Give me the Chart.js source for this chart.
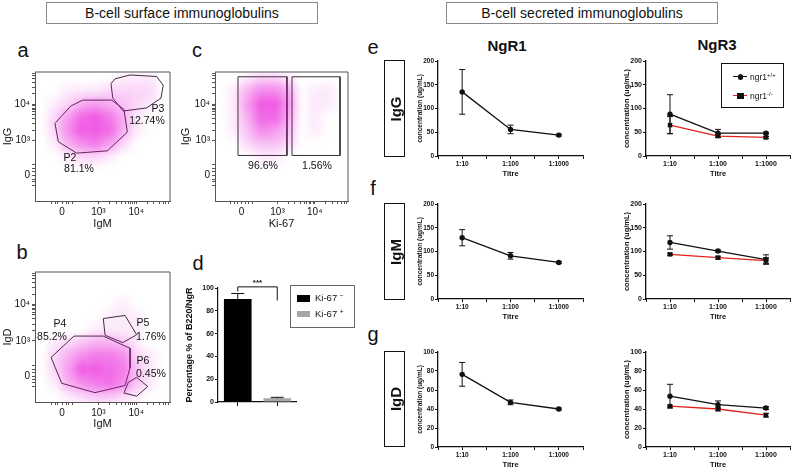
<!DOCTYPE html>
<html lang="en">
<head>
<meta charset="UTF-8">
<title>B-cell immunoglobulins</title>
<script src="https://cdn.jsdelivr.net/npm/chart.js@4.4.1/dist/chart.umd.min.js"></script>
<style>
  body { margin: 0; background: #fff; }
  #page { position: relative; width: 792px; height: 470px; overflow: hidden;
          font-family: "Liberation Sans", Arial, sans-serif; color: #111; }
  #page canvas { position: absolute; }
  .t { position: absolute; white-space: nowrap; transform: translate(-50%, -50%); line-height: 1; }
  .hdr { position: absolute; box-sizing: border-box; border: 1px solid #8a8a8a; font-size: 14px;
         text-align: center; line-height: 20px; height: 22px; width: 272px; top: 2px; }
  .letter { font-size: 20px; }
  .gate { font-size: 10.5px; }
  .side { position: absolute; box-sizing: border-box; border: 1.6px solid #111; width: 21px; left: 384px; }
  .side span { position: absolute; left: 50%; top: 50%; transform: translate(-50%, -50%) rotate(-90deg);
               font-weight: bold; font-size: 15px; }
  .ng { font-weight: bold; font-size: 15px; }
  .lg { position: absolute; box-sizing: border-box; }
  sup { font-size: 70%; line-height: 0; vertical-align: 0.5em; }
</style>
</head>
<body>
<div id="page">
  <div class="hdr" style="left:46px">B-cell surface immunoglobulins</div>
  <div class="hdr" style="left:446px">B-cell secreted immunoglobulins</div>

  <div class="t letter" style="left:23px;top:50px">a</div>
  <div class="t letter" style="left:22px;top:252px">b</div>
  <div class="t letter" style="left:197px;top:50px">c</div>
  <div class="t letter" style="left:198px;top:263px">d</div>
  <div class="t letter" style="left:373px;top:47px">e</div>
  <div class="t letter" style="left:373px;top:188px">f</div>
  <div class="t letter" style="left:373px;top:334px">g</div>

  <canvas id="flowA" width="172" height="168" style="left:0;top:64px"></canvas>
  <canvas id="flowC" width="172" height="168" style="left:178px;top:64px"></canvas>
  <canvas id="flowB" width="172" height="168" style="left:0;top:264px"></canvas>
  <canvas id="barD" width="113" height="135" style="left:184px;top:280px"></canvas>

  <div class="t gate" style="left:158px;top:108px">P3</div>
  <div class="t gate" style="left:147px;top:120px">12.74%</div>
  <div class="t gate" style="left:70px;top:157px">P2</div>
  <div class="t gate" style="left:79px;top:168px">81.1%</div>
  <div class="t gate" style="left:60px;top:323px">P4</div>
  <div class="t gate" style="left:52px;top:336px">85.2%</div>
  <div class="t gate" style="left:143px;top:322px">P5</div>
  <div class="t gate" style="left:151px;top:336px">1.76%</div>
  <div class="t gate" style="left:143px;top:360px">P6</div>
  <div class="t gate" style="left:151px;top:373px">0.45%</div>
  <div class="t gate" style="left:263px;top:165px">96.6%</div>
  <div class="t gate" style="left:317px;top:165px">1.56%</div>

  <!-- legend of d -->
  <div class="lg" style="left:290px;top:285px;width:65px;height:43px;border:1px solid #666"></div>
  <div class="lg" style="left:297px;top:295px;width:13px;height:7px;background:#000"></div>
  <div class="lg" style="left:297px;top:311px;width:13px;height:6px;background:#a6a6a6"></div>
  <div class="t" style="left:315px;top:298px;transform:translateY(-50%);font-size:9.5px">Ki-67 <sup>−</sup></div>
  <div class="t" style="left:315px;top:314px;transform:translateY(-50%);font-size:9.5px">Ki-67 <sup>+</sup></div>

  <div class="t ng" style="left:507px;top:45px">NgR1</div>
  <div class="t ng" style="left:717px;top:44px">NgR3</div>
  <div class="side" style="top:60px;height:97px"><span>IgG</span></div>
  <div class="side" style="top:203px;height:97px"><span>IgM</span></div>
  <div class="side" style="top:351px;height:96px"><span>IgD</span></div>

  <canvas id="e1" width="169" height="123" style="left:416px;top:55px"></canvas>
  <canvas id="e3" width="170" height="123" style="left:622px;top:55px"></canvas>
  <canvas id="f1" width="169" height="123" style="left:416px;top:198px"></canvas>
  <canvas id="f3" width="170" height="123" style="left:622px;top:198px"></canvas>
  <canvas id="g1" width="169" height="123" style="left:416px;top:346px"></canvas>
  <canvas id="g3" width="170" height="123" style="left:622px;top:346px"></canvas>

  <!-- legend of NgR3 -->
  <div class="lg" style="left:721px;top:63px;width:63px;height:45px;border:1.3px solid #111"></div>
  <div class="lg" style="left:733px;top:76px;width:14px;height:1.4px;background:#111"></div>
  <div class="lg" style="left:737.5px;top:74px;width:5.5px;height:5.5px;border-radius:50%;background:#111"></div>
  <div class="t" style="left:750px;top:77px;transform:translateY(-50%);font-size:8.5px">ngr1<sup>+/+</sup></div>
  <div class="lg" style="left:733px;top:95px;width:14px;height:1.4px;background:#e3211c"></div>
  <div class="lg" style="left:737px;top:92.5px;width:6.5px;height:6.5px;background:#111"></div>
  <div class="t" style="left:750px;top:96px;transform:translateY(-50%);font-size:8.5px">ngr1<sup>-/-</sup></div>
</div>

<script>
const FONT = "'Liberation Sans', Arial, sans-serif";

// flow plots: axis in display units 0-100 (biexponential scale)
const flowTickPos = [20, 47, 75];
const flowTickLabels = ['0', '10³', '10⁴'];
const flowMinorPos = [12, 15, 17, 23, 25, 28, 55, 60, 64, 67, 69, 71, 72, 74, 83, 88, 92, 95, 97, 99];

// dot density, 0-9; rows top (90-100) to bottom (0-10), columns left to right
const densA = [
  '0000001110',
  '0011122220',
  '0124543210',
  '0258974100',
  '0269984100',
  '0146752000',
  '0012210000',
  '0000000000',
  '0000000000',
  '0000000000'
];
const densC = [
  '0012210000',
  '0146640110',
  '0159950110',
  '0148840100',
  '0136530100',
  '0023320000',
  '0001100000',
  '0000000000',
  '0000000000',
  '0000000000'
];
const densB = [
  '0000000000',
  '0000000000',
  '0000001000',
  '0000011100',
  '0000111100',
  '0123443100',
  '0246776210',
  '0259987310',
  '0146786310',
  '0012332100'
];

// gate outlines (display units)
const gateP2 = [[14.8, 60.2], [26.4, 73.5], [35.3, 78.2], [56.8, 78.2], [65.9, 70.9], [68.4, 53.4], [53.6, 38.9], [30.9, 37.1], [17.3, 45.9]];
const gateP3 = [[56.3, 91.0], [59.3, 94.7], [70.4, 97.7], [90.1, 96.5], [95.0, 89.7], [93.3, 79.7], [82.7, 72.2], [65.4, 69.7], [57.6, 79.7]];
const gateKiNeg = [[17.3, 96.3], [54.1, 96.3], [54.1, 35.3], [17.3, 35.3]];
const gateKiPos = [[57.9, 96.3], [94.0, 96.3], [94.0, 35.3], [57.9, 35.3]];
const gateP4 = [[11.9, 34.3], [28.9, 50.7], [50.6, 50.7], [70.4, 41.3], [70.4, 26.3], [66.7, 12.7], [44.4, 7.2], [19.8, 14.4]];
const gateP5 = [[50.6, 64.2], [66.7, 66.6], [75.3, 51.7], [65.0, 45.7], [51.9, 51.3]];
const gateP6 = [[65.9, 6.9], [69.1, 15.1], [75.3, 18.9], [83.5, 11.9], [75.3, 4.5]];

// d: Ki-67 fractions
const kiLabels = ['Ki-67 −', 'Ki-67 +'];
const kiPct = [90.4, 3.3];
const kiErr = [4.8, 0.8];

// e-g: ELISA titres
const titres = ['1:10', '1:100', '1:1000'];
const titreTickPos = [-0.5, 0, 0.5, 1, 1.5, 2, 2.5];
const ngr1IgG = [135, 56, 44],   ngr1IgGErr = [47, 9, 2];
const ngr1IgM = [129, 91, 77],   ngr1IgMErr = [17, 7, 2];
const ngr1IgD = [76.5, 47, 40],  ngr1IgDErr = [12.5, 2.5, 1];
const wtIgG = [88, 48, 48],      wtIgGErr = [41, 8, 2];
const koIgG = [65, 42, 39],      koIgGErr = [18, 3, 2];
const wtIgM = [119, 101, 83],    wtIgMErr = [14, 2, 10];
const koIgM = [94, 87, 81],      koIgMErr = [2, 3, 6];
const wtIgD = [53.5, 44.5, 41],  wtIgDErr = [12.5, 4, 1.5];
const koIgD = [43, 40, 33.5],    koIgDErr = [1, 2, 2];

const errorBars = {
  id: 'errorBars',
  beforeDatasetsDraw(chart, args, opts) {
    if (!opts.errs) return;
    const ctx = chart.ctx, ys = chart.scales.y;
    ctx.save();
    ctx.strokeStyle = '#111';
    ctx.lineWidth = 1;
    chart.data.datasets.forEach((ds, di) => {
      const e = opts.errs[di];
      if (!e) return;
      const meta = chart.getDatasetMeta(di);
      meta.data.forEach((el, i) => {
        const v = meta.controller.getParsed(i).y;
        const top = ys.getPixelForValue(v + e[i]), bot = ys.getPixelForValue(v - e[i]);
        ctx.beginPath();
        ctx.moveTo(el.x, top); ctx.lineTo(el.x, bot);
        ctx.moveTo(el.x - opts.cap, top); ctx.lineTo(el.x + opts.cap, top);
        ctx.moveTo(el.x - opts.cap, bot); ctx.lineTo(el.x + opts.cap, bot);
        ctx.stroke();
      });
    });
    ctx.restore();
  }
};

// blur the density dataset so it reads as a cloud of dots
const cloudBlur = {
  id: 'cloudBlur',
  beforeDatasetDraw(chart, args) {
    if (!chart.data.datasets[args.index].cloud) return;
    chart.ctx.save();
    chart.ctx.filter = 'blur(4px)';
  },
  afterDatasetDraw(chart, args) {
    if (chart.data.datasets[args.index].cloud) chart.ctx.restore();
  }
};

const frame = {
  id: 'frame',
  afterDraw(chart, args, opts) {
    if (!opts.on) return;
    const { ctx, chartArea: a } = chart;
    ctx.save();
    ctx.strokeStyle = '#555';
    ctx.lineWidth = 1;
    ctx.beginPath();
    ctx.moveTo(a.left, a.top); ctx.lineTo(a.right, a.top); ctx.lineTo(a.right, a.bottom);
    ctx.stroke();
    ctx.restore();
  }
};

const bracket = {
  id: 'bracket',
  afterDatasetsDraw(chart, args, opts) {
    if (!opts.text) return;
    const { ctx } = chart, xs = chart.scales.x, ys = chart.scales.y;
    const x0 = xs.getPixelForValue(0), x1 = xs.getPixelForValue(1);
    const yT = ys.getPixelForValue(opts.top);
    ctx.save();
    ctx.strokeStyle = '#111';
    ctx.lineWidth = 1;
    ctx.beginPath();
    ctx.moveTo(x0, ys.getPixelForValue(opts.left)); ctx.lineTo(x0, yT);
    ctx.lineTo(x1, yT); ctx.lineTo(x1, ys.getPixelForValue(opts.right));
    ctx.stroke();
    ctx.fillStyle = '#111';
    ctx.font = 'bold 8px ' + FONT;
    ctx.textAlign = 'center';
    ctx.fillText(opts.text, (x0 + x1) / 2, yT - 2);
    ctx.restore();
  }
};

Chart.register(errorBars, cloudBlur, frame, bracket);

function cloud(rows) {
  const pts = [];
  rows.forEach((row, r) => row.split('').forEach((ch, c) => {
    const d = +ch;
    if (d > 0) pts.push({ x: c * 10 + 5, y: 95 - r * 10, d });
  }));
  return pts;
}
const poly = g => g.concat([g[0]]).map(([x, y]) => ({ x, y }));

function flowChart(id, dens, gates, xTitle, yTitle, yW, xH) {
  const axis = (title, isX) => ({
    type: 'linear', min: 0, max: 100,
    afterBuildTicks: s => { s.ticks = flowTickPos.concat(flowMinorPos).map(v => ({ value: v })); },
    afterFit: s => { if (isX) s.height = xH; else s.width = yW; },
    ticks: {
      autoSkip: false, maxRotation: 0, padding: 2, color: '#111', font: { family: FONT, size: 10 },
      callback: v => { const i = flowTickPos.indexOf(v); return i < 0 ? '' : flowTickLabels[i]; }
    },
    grid: { drawOnChartArea: false, tickLength: 3, color: '#555' },
    border: { color: '#555', width: 1 },
    title: { display: true, text: title, color: '#111', font: { family: FONT, size: 11 }, padding: { top: 1, bottom: 1 } }
  });
  new Chart(id, {
    type: 'scatter',
    data: {
      datasets: [{
        cloud: true,
        data: cloud(dens),
        pointRadius: 9,
        pointBorderWidth: 0,
        pointBackgroundColor: c => `rgba(232, 0, 214, ${(c.raw.d / 9 * 0.6).toFixed(3)})`
      }].concat(gates.map(g => ({
        data: poly(g), showLine: true, pointRadius: 0, borderColor: '#333', borderWidth: 1
      })))
    },
    options: {
      responsive: false, animation: false, events: [],
      layout: { padding: { top: 4, right: 2, left: 0, bottom: 0 }, autoPadding: false },
      plugins: { legend: { display: false }, tooltip: { enabled: false }, frame: { on: true } },
      scales: { x: axis(xTitle, true), y: axis(yTitle, false) }
    }
  });
}

flowChart('flowA', densA, [gateP2, gateP3], 'IgM', 'IgG', 35, 31);
flowChart('flowC', densC, [gateKiNeg, gateKiPos], 'Ki-67', 'IgG', 37, 31);
flowChart('flowB', densB, [gateP4, gateP5, gateP6], 'IgM', 'IgD', 35, 30);

new Chart('barD', {
  type: 'bar',
  data: {
    labels: kiLabels,
    datasets: [{ data: kiPct, backgroundColor: ['#000', '#a6a6a6'], barPercentage: 0.7, categoryPercentage: 1 }]
  },
  options: {
    responsive: false, animation: false, events: [],
    layout: { padding: { top: 8, right: 0, left: 0, bottom: 0 }, autoPadding: false },
    plugins: {
      legend: { display: false }, tooltip: { enabled: false },
      errorBars: { errs: [kiErr], cap: 6.5 },
      bracket: { left: 97, top: 101, right: 89, text: '***' }
    },
    scales: {
      x: {
        afterFit: s => { s.height = 13; },
        ticks: { callback: () => '' },
        grid: { drawOnChartArea: false, offset: false, tickLength: 4, color: '#111' },
        border: { color: '#111', width: 1.2 }
      },
      y: {
        min: 0, max: 100,
        afterFit: s => { s.width = 34; },
        ticks: { stepSize: 20, padding: 1, color: '#111', font: { family: FONT, size: 7, weight: 'bold' } },
        grid: { drawOnChartArea: false, tickLength: 3, color: '#111' },
        border: { color: '#111', width: 1.2 },
        title: { display: true, text: 'Percentage % of B220/NgR', color: '#111',
                 font: { family: FONT, size: 9, weight: 'bold' }, padding: { top: 0, bottom: 0 } }
      }
    }
  }
});

function titreChart(id, series, yMax, yStep, big) {
  const tf = big ? 7 : 6.5, lf = big ? 7.5 : 6.5;
  new Chart(id, {
    type: 'scatter',
    data: {
      datasets: series.map(s => ({
        data: s.vals.map((v, i) => ({ x: i, y: v })),
        showLine: true, borderColor: s.color, borderWidth: 1.3,
        pointStyle: s.marker, pointRadius: s.marker === 'rect' ? 3.2 : 2.7,
        pointBackgroundColor: '#111', pointBorderColor: '#111', pointBorderWidth: 0
      }))
    },
    options: {
      responsive: false, animation: false, events: [],
      layout: { padding: { top: 6, right: 2, left: 0, bottom: 0 }, autoPadding: false },
      plugins: { legend: { display: false }, tooltip: { enabled: false }, errorBars: { errs: series.map(s => s.errs), cap: 3 } },
      scales: {
        x: {
          type: 'linear', min: -0.5, max: 2.5,
          afterBuildTicks: s => { s.ticks = titreTickPos.map(v => ({ value: v })); },
          afterFit: s => { s.height = 22; },
          ticks: { autoSkip: false, maxRotation: 0, padding: 1, color: '#111', font: { family: FONT, size: tf, weight: 'bold' },
                   callback: v => Number.isInteger(v) && v >= 0 ? titres[v] : '' },
          grid: { drawOnChartArea: false, tickLength: 3, color: '#111' },
          border: { color: '#111', width: 1.3 },
          title: { display: true, text: 'Titre', color: '#111', font: { family: FONT, size: 7.5, weight: 'bold' }, padding: { top: 0, bottom: 0 } }
        },
        y: {
          min: 0, max: yMax,
          afterFit: s => { s.width = big ? 24 : 22; },
          ticks: { stepSize: yStep, padding: 1, color: '#111', font: { family: FONT, size: tf, weight: 'bold' } },
          grid: { drawOnChartArea: false, tickLength: 3, color: '#111' },
          border: { color: '#111', width: 1.3 },
          title: { display: true, text: 'concentration (ug/mL)', color: '#111', font: { family: FONT, size: lf, weight: 'bold' }, padding: { top: 0, bottom: 0 } }
        }
      }
    }
  });
}

const BLACK = '#111', RED = '#e3211c';
titreChart('e1', [{ vals: ngr1IgG, errs: ngr1IgGErr, color: BLACK, marker: 'circle' }], 200, 50, false);
titreChart('f1', [{ vals: ngr1IgM, errs: ngr1IgMErr, color: BLACK, marker: 'circle' }], 200, 50, false);
titreChart('g1', [{ vals: ngr1IgD, errs: ngr1IgDErr, color: BLACK, marker: 'circle' }], 100, 20, false);
titreChart('e3', [{ vals: wtIgG, errs: wtIgGErr, color: BLACK, marker: 'circle' },
                  { vals: koIgG, errs: koIgGErr, color: RED, marker: 'rect' }], 200, 50, true);
titreChart('f3', [{ vals: wtIgM, errs: wtIgMErr, color: BLACK, marker: 'circle' },
                  { vals: koIgM, errs: koIgMErr, color: RED, marker: 'rect' }], 200, 50, true);
titreChart('g3', [{ vals: wtIgD, errs: wtIgDErr, color: BLACK, marker: 'circle' },
                  { vals: koIgD, errs: koIgDErr, color: RED, marker: 'rect' }], 100, 20, true);
</script>
</body>
</html>
